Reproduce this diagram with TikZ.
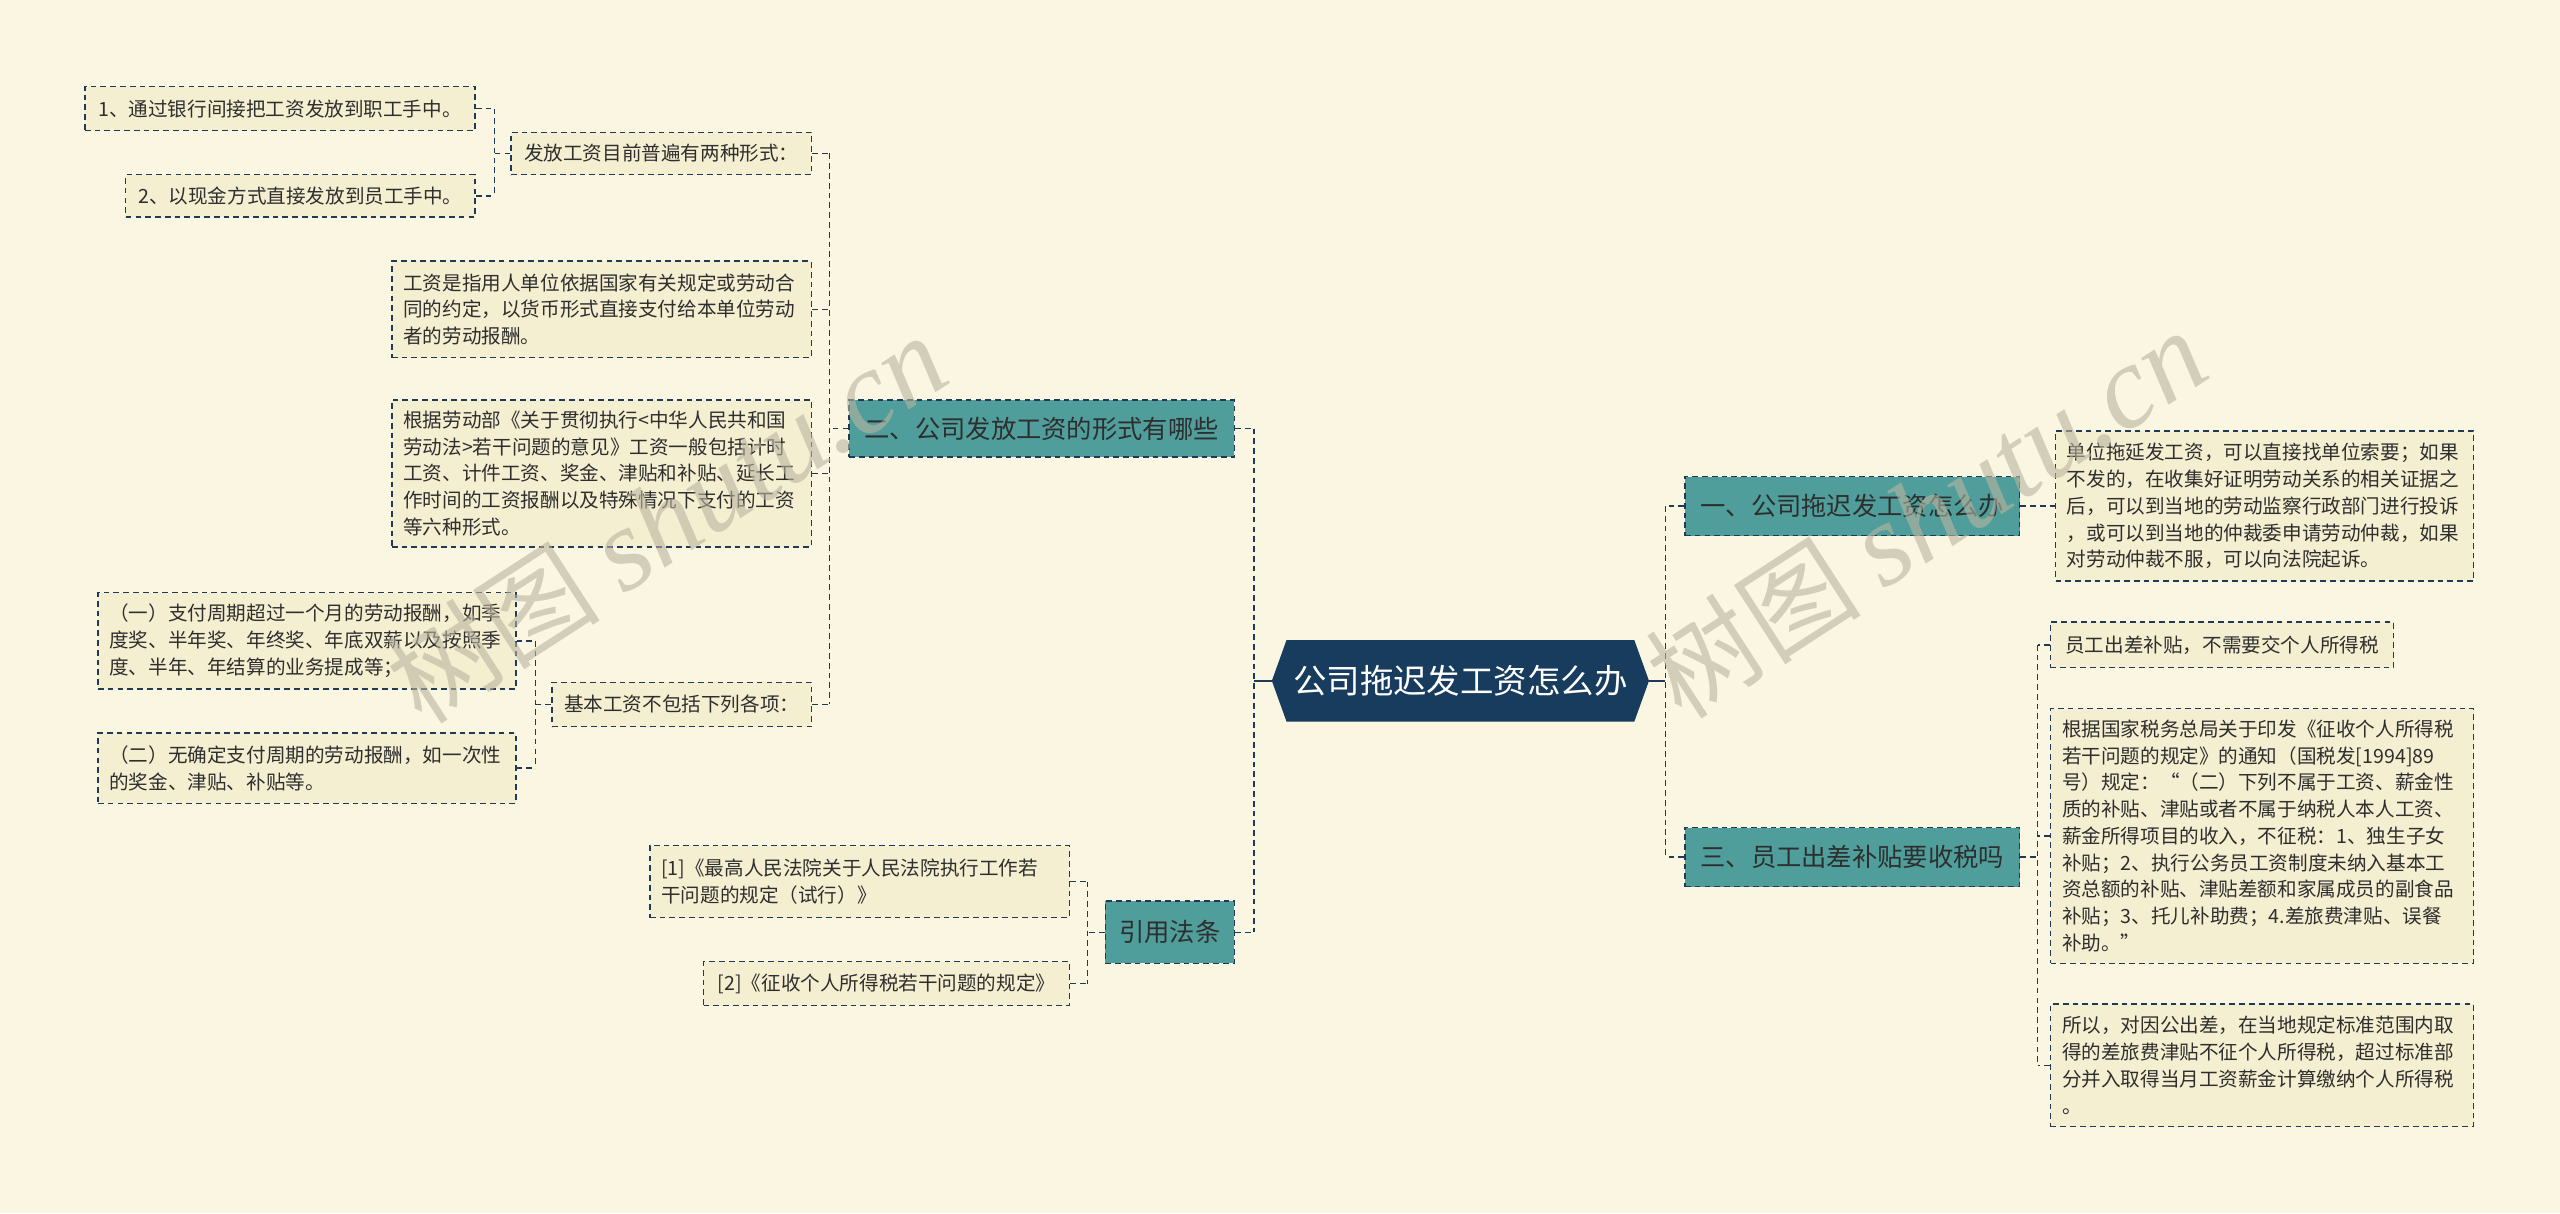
\documentclass[tikz,border=0pt]{standalone}
\usepackage{fontspec}
\setmainfont{Noto Sans CJK SC}
\newfontfamily\wmfont{Liberation Serif}
\usetikzlibrary{calc}
\definecolor{bgc}{HTML}{FAF6E1}
\definecolor{leaffill}{HTML}{F5EFD1}
\definecolor{linec}{HTML}{1E3A56}
\definecolor{tealc}{HTML}{4F9E9C}
\definecolor{navyc}{HTML}{173C5D}
\definecolor{txtc}{HTML}{2E2E2E}
\definecolor{wmc}{HTML}{B9B4A0}
\tikzset{
 dsh/.style={dash pattern=on 3.5pt off 2.5pt},
 leaf/.style={draw=linec, dsh, line width=0.9pt, fill=leaffill, text=txtc, font=\fontsize{12}{16.4}\selectfont, inner xsep=7pt, inner ysep=3pt, align=left},
 topic/.style={draw=linec, dsh, line width=0.9pt, fill=tealc, text=txtc, font=\fontsize{15.5}{18}\selectfont, inner sep=3pt},
 conn/.style={draw=linec, dsh, line width=0.9pt},
 mainconn/.style={draw=linec, line width=1.6pt},
 wmark/.style={text=wmc, opacity=0.6, rotate=33, inner sep=0pt}
}
\begin{document}
\begin{tikzpicture}[x=1pt,y=-1pt]
\fill[bgc] (0,0) rectangle (1568,743);
\useasboundingbox (0,0) rectangle (1568,743);

% central node
\node[minimum width=231pt, minimum height=50pt, inner sep=0pt, text=white,
  font=\fontsize{20.5}{24}\selectfont,
  path picture={\fill[navyc] (path picture bounding box.west) -- ([xshift=9pt]path picture bounding box.north west) -- ([xshift=-9pt]path picture bounding box.north east) -- (path picture bounding box.east) -- ([xshift=-9pt]path picture bounding box.south east) -- ([xshift=9pt]path picture bounding box.south west) -- cycle;}]
  (C) at (894.5,417) {公司拖迟发工资怎么办};

% topics
\node[topic, minimum width=236pt, minimum height=35pt] (T2) at (638,262.5) {二、公司发放工资的形式有哪些};
\node[topic, minimum width=79pt, minimum height=38pt] (TY) at (716.5,571) {引用法条};
\node[topic, minimum width=205pt, minimum height=36pt] (T1) at (1134.5,310) {一、公司拖迟发工资怎么办};
\node[topic, minimum width=205pt, minimum height=36pt] (T3) at (1134.5,525) {三、员工出差补贴要收税吗};

% left leaves
\node[leaf, minimum width=239pt, minimum height=27pt] (L1) at (171.5,66.5) {1、通过银行间接把工资发放到职工手中。};
\node[leaf, minimum width=214pt, minimum height=26pt] (L2) at (184,120) {2、以现金方式直接发放到员工手中。};
\node[leaf, minimum width=184pt, minimum height=26pt] (F) at (405,94) {发放工资目前普遍有两种形式：};
\node[leaf, minimum width=257pt, minimum height=59pt, text width=243pt] (G) at (368.5,189.5) {工资是指用人单位依据国家有关规定或劳动合\\同的约定，以货币形式直接支付给本单位劳动\\者的劳动报酬。};
\node[leaf, minimum width=257pt, minimum height=90pt, text width=243pt] (H) at (368.5,290) {根据劳动部《关于贯彻执行<中华人民共和国\\劳动法>若干问题的意见》工资一般包括计时\\工资、计件工资、奖金、津贴和补贴、延长工\\作时间的工资报酬以及特殊情况下支付的工资\\等六种形式。};
\node[leaf, minimum width=159pt, minimum height=27pt] (J) at (417.5,431.5) {基本工资不包括下列各项：};
\node[leaf, minimum width=256pt, minimum height=59pt, text width=242pt] (J1) at (188,392.5) {（一）支付周期超过一个月的劳动报酬，如季\\度奖、半年奖、年终奖、年底双薪以及按照季\\度、半年、年结算的业务提成等；};
\node[leaf, minimum width=256pt, minimum height=43pt, text width=242pt] (J2) at (188,470.5) {（二）无确定支付周期的劳动报酬，如一次性\\的奖金、津贴、补贴等。};
\node[leaf, minimum width=257pt, minimum height=44pt, text width=243pt] (Y1) at (526.5,540) {[1]《最高人民法院关于人民法院执行工作若\\干问题的规定（试行）》};
\node[leaf, minimum width=224pt, minimum height=27pt] (Y2) at (543,602.5) {[2]《征收个人所得税若干问题的规定》};

% right leaves
\node[leaf, minimum width=256pt, minimum height=92pt, text width=242pt] (R1) at (1387,310) {单位拖延发工资，可以直接找单位索要；如果\\不发的，在收集好证明劳动关系的相关证据之\\后，可以到当地的劳动监察行政部门进行投诉\\，或可以到当地的仲裁委申请劳动仲裁，如果\\对劳动仲裁不服，可以向法院起诉。};
\node[leaf, minimum width=210pt, minimum height=28pt] (S1) at (1361,395) {员工出差补贴，不需要交个人所得税};
\node[leaf, minimum width=259pt, minimum height=156pt, text width=245pt] (S2) at (1385.5,512) {根据国家税务总局关于印发《征收个人所得税\\若干问题的规定》的通知（国税发[1994]89\\号）规定：“（二）下列不属于工资、薪金性\\质的补贴、津贴或者不属于纳税人本人工资、\\薪金所得项目的收入，不征税：1、独生子女\\补贴；2、执行公务员工资制度未纳入基本工\\资总额的补贴、津贴差额和家属成员的副食品\\补贴；3、托儿补助费；4.差旅费津贴、误餐\\补助。”};
\node[leaf, minimum width=259pt, minimum height=75pt, text width=245pt] (S3) at (1385.5,652.5) {所以，对因公出差，在当地规定标准范围内取\\得的差旅费津贴不征个人所得税，超过标准部\\分并入取得当月工资薪金计算缴纳个人所得税\\。};

% bus coordinates
\coordinate (bL) at (768,0);
\coordinate (bR) at (1020,0);
\coordinate (b2) at (508,0);
\coordinate (bF) at (303,0);
\coordinate (bJ) at (328,0);
\coordinate (bY) at (666,0);
\coordinate (b3) at (1248,0);

% main connectors
\draw[mainconn] (C.west) -- (C.west -| bL);
\draw[mainconn] (C.east) -- (C.east -| bR);
\draw[conn] (T2.east -| bL) -- (TY.east -| bL);
\draw[conn] (T2.east) -- (T2.east -| bL);
\draw[conn] (TY.east) -- (TY.east -| bL);
\draw[conn] (T1.west -| bR) -- (T3.west -| bR);
\draw[conn] (T1.west) -- (T1.west -| bR);
\draw[conn] (T3.west) -- (T3.west -| bR);

% branch 二
\draw[conn] (T2.west) -- (T2.west -| b2);
\draw[conn] (F.east -| b2) -- (J.east -| b2);
\foreach \n in {F,G,H,J} {\draw[conn] (\n.east) -- (\n.east -| b2);}
\draw[conn] (F.west) -- (F.west -| bF);
\draw[conn] (L1.east -| bF) -- (L2.east -| bF);
\foreach \n in {L1,L2} {\draw[conn] (\n.east) -- (\n.east -| bF);}
\draw[conn] (J.west) -- (J.west -| bJ);
\draw[conn] (J1.east -| bJ) -- (J2.east -| bJ);
\foreach \n in {J1,J2} {\draw[conn] (\n.east) -- (\n.east -| bJ);}

% branch 引用法条
\draw[conn] (TY.west) -- (TY.west -| bY);
\draw[conn] (Y1.east -| bY) -- (Y2.east -| bY);
\foreach \n in {Y1,Y2} {\draw[conn] (\n.east) -- (\n.east -| bY);}

% branch 一
\draw[conn] (T1.east) -- (R1.west);

% branch 三
\draw[conn] (T3.east) -- (T3.east -| b3);
\draw[conn] (S1.west -| b3) -- (S3.west -| b3);
\foreach \n in {S1,S2,S3} {\draw[conn] (\n.west) -- (\n.west -| b3);}

% watermarks
\node[wmark] (W1) at (408,318) {\fontsize{66}{66}\selectfont 树图 {\wmfont\itshape\fontsize{72}{72}\selectfont shutu.cn}};
\node[wmark] (W2) at (1180,315) {\fontsize{66}{66}\selectfont 树图 {\wmfont\itshape\fontsize{72}{72}\selectfont shutu.cn}};
\end{tikzpicture}
\end{document}
